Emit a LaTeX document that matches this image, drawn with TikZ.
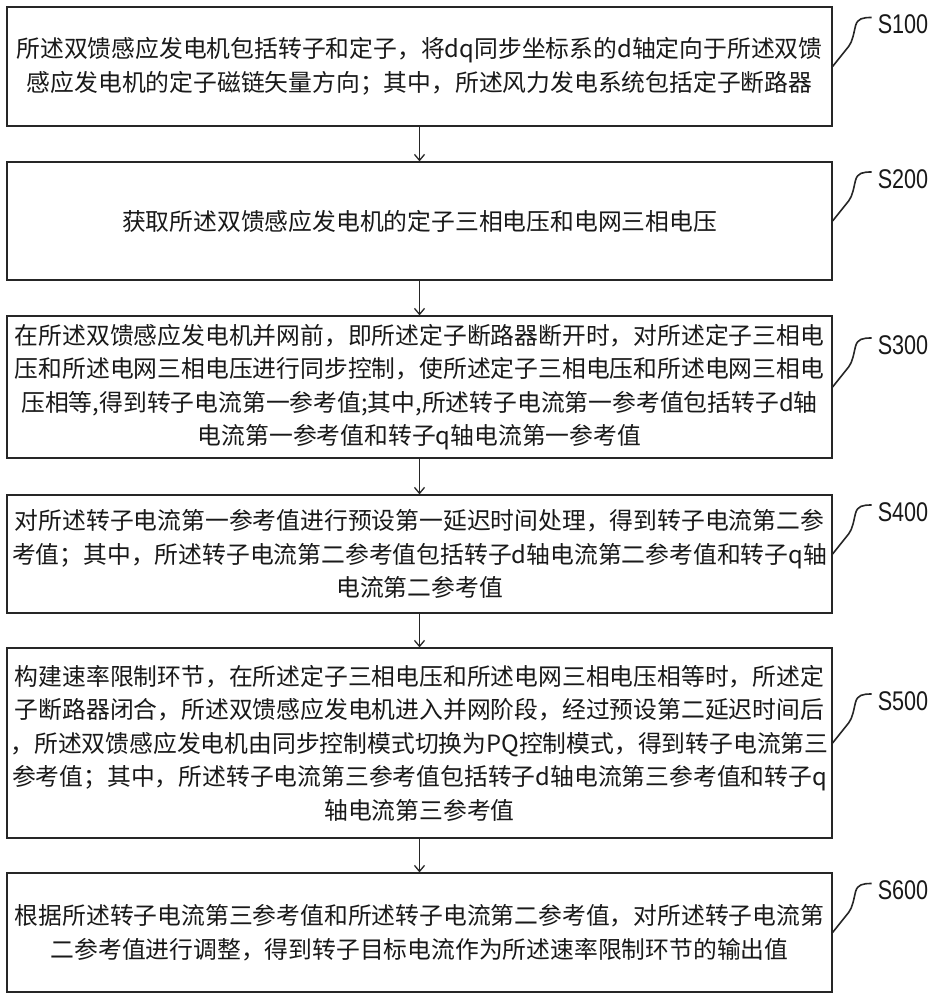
\documentclass[tikz,border=0pt]{standalone}
\usepackage{fontspec}
\usetikzlibrary{calc,arrows.meta}
\newfontfamily\cjk{Noto Sans CJK SC}
\newfontfamily\labfont[FakeStretch=0.8]{Liberation Sans}
\begin{document}
\begin{tikzpicture}[x=1pt,y=-1pt,
  stepbox/.style={draw=black!85, line width=1.2pt, minimum width=825pt, inner sep=0pt, align=center,
    font=\cjk\fontsize{23.8}{33.5}\selectfont, text=black!90},
  flow/.style={draw=black!85, line width=1.3pt, -{Straight Barb[length=6pt,width=10pt,line width=1.3pt]}},
  leader/.style={draw=black!85, line width=1.6pt},
  labtext/.style={font=\labfont\fontsize{27}{30}\selectfont, inner sep=0pt, text=black!90}]
\useasboundingbox[fill=white] (0,0) rectangle (934,1000);

\node[stepbox, minimum height=119pt] (b1) at (419.5,66.5)
  {所述双馈感应发电机包括转子和定子，将dq同步坐标系的d轴定向于所述双馈\\
   感应发电机的定子磁链矢量方向；其中，所述风力发电系统包括定子断路器};
\node[stepbox, minimum height=118pt] (b2) at (419.5,221)
  {获取所述双馈感应发电机的定子三相电压和电网三相电压};
\node[stepbox, minimum height=142pt] (b3) at (419.5,387)
  {在所述双馈感应发电机并网前，即所述定子断路器断开时，对所述定子三相电\\
   压和所述电网三相电压进行同步控制，使所述定子三相电压和所述电网三相电\\
   压相等,得到转子电流第一参考值;其中,所述转子电流第一参考值包括转子d轴\\
   电流第一参考值和转子q轴电流第一参考值};
\node[stepbox, minimum height=118pt] (b4) at (419.5,554)
  {对所述转子电流第一参考值进行预设第一延迟时间处理，得到转子电流第二参\\
   考值；其中，所述转子电流第二参考值包括转子d轴电流第二参考值和转子q轴\\
   电流第二参考值};
\node[stepbox, minimum height=190pt] (b5) at (419.5,743)
  {构建速率限制环节，在所述定子三相电压和所述电网三相电压相等时，所述定\\
   子断路器闭合，所述双馈感应发电机进入并网阶段，经过预设第二延迟时间后\\
   ，所述双馈感应发电机由同步控制模式切换为PQ控制模式，得到转子电流第三\\
   参考值；其中，所述转子电流第三参考值包括转子d轴电流第三参考值和转子q\\
   轴电流第三参考值};
\node[stepbox, minimum height=119pt] (b6) at (419.5,932.5)
  {根据所述转子电流第三参考值和所述转子电流第二参考值，对所述转子电流第\\
   二参考值进行调整，得到转子目标电流作为所述速率限制环节的输出值};

\draw[flow] (b1.south) -- (b2.north);
\draw[flow] (b2.south) -- (b3.north);
\draw[flow] (b3.south) -- (b4.north);
\draw[flow] (b4.south) -- (b5.north);
\draw[flow] (b5.south) -- (b6.north);

\foreach \n/\s in {b1/S100,b2/S200,b3/S300,b4/S400,b5/S500,b6/S600}{
  \draw[leader] (\n.east) -- ($(\n.east)+(16,-20)$)
    .. controls ($(\n.east)+(20,-25)$) and ($(\n.east)+(21,-33)$) .. ($(\n.east)+(23,-41)$)
    .. controls ($(\n.east)+(25,-48)$) and ($(\n.east)+(30,-49)$) .. ($(\n.east)+(39,-49)$);
  \node[labtext, anchor=west] (l\s) at ($(\n.east)+(45,-42)$) {\s};
}
\end{tikzpicture}
\end{document}
